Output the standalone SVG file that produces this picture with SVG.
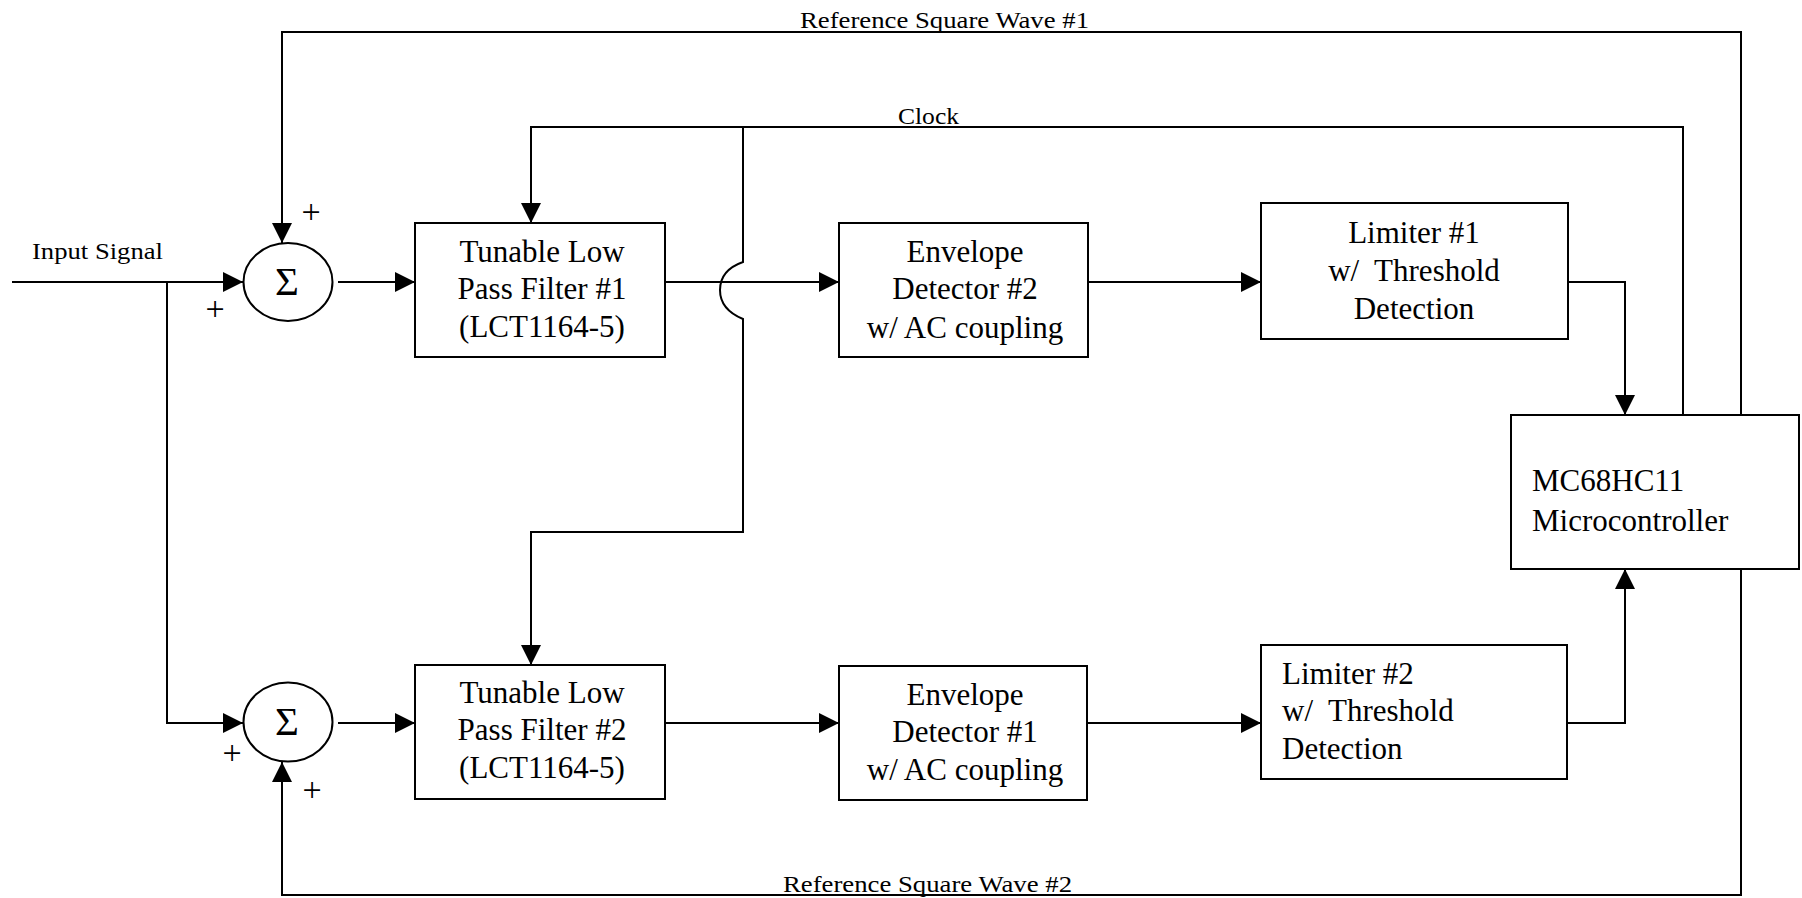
<svg xmlns="http://www.w3.org/2000/svg" width="1802" height="898" viewBox="0 0 1802 898">
  <style>
    .box { fill: #fff; stroke: #000; stroke-width: 2; }
    .sum { fill: #fff; stroke: #000; stroke-width: 2; }
    .wire { fill: none; stroke: #000; stroke-width: 2; }
    .arrow { marker-end: url(#arrowhead); }
    .big { font-family: "Liberation Serif", "Times New Roman", serif; font-size: 31px; fill: #000; }
    .mid { text-anchor: middle; }
    .small { font-family: "Liberation Serif", "Times New Roman", serif; font-size: 23px; fill: #000; }
    .sigma { font-family: "Liberation Serif", "Times New Roman", serif; font-size: 41px; fill: #000; text-anchor: middle; }
    .plus { font-family: "Liberation Serif", "Times New Roman", serif; font-size: 34px; fill: #000; text-anchor: middle; }
  </style>
  <defs>
    <marker id="arrowhead" viewBox="0 0 20 20" refX="20" refY="10" markerWidth="20" markerHeight="20" markerUnits="userSpaceOnUse" orient="auto">
      <path d="M0,0 L20,10 L0,20 z" fill="#000"/>
    </marker>
  </defs>
  <rect width="1802" height="898" fill="#fff"/>

  <!-- signal wiring -->
  <g id="connectors">
    <!-- input splits to both summers -->
    <path class="wire arrow" d="M12,282 H243"/>
    <path class="wire arrow" d="M167,282 V723 H243"/>
    <!-- summers to filters -->
    <path class="wire arrow" d="M338,282 H415"/>
    <path class="wire arrow" d="M338,723 H415"/>
    <!-- upper chain -->
    <path class="wire arrow" d="M665,282 H839"/>
    <path class="wire arrow" d="M1088,282 H1261"/>
    <path class="wire arrow" d="M1568,282 H1625 V415"/>
    <!-- lower chain -->
    <path class="wire arrow" d="M665,723 H839"/>
    <path class="wire arrow" d="M1087,723 H1261"/>
    <path class="wire arrow" d="M1567,723 H1625 V569"/>
    <!-- reference square waves back to the summers -->
    <path class="wire arrow" d="M1741,415 V32 H282 V243"/>
    <path class="wire arrow" d="M1741,569 V895 H282 V762"/>
    <!-- clock to both filters, hopping over the filter output -->
    <path class="wire arrow" d="M1683,415 V127 H531 V223"/>
    <path class="wire arrow" d="M743,127 V262 C726,268 720,279 720,290 C720,301 726,312 743,319 V532 H531 V665"/>
  </g>

  <g id="labels">
    <text class="small" x="32" y="259" textLength="131" lengthAdjust="spacingAndGlyphs">Input Signal</text>
    <text class="small" x="800" y="28" textLength="289" lengthAdjust="spacingAndGlyphs">Reference Square Wave #1</text>
    <text class="small" x="898" y="124" textLength="61" lengthAdjust="spacingAndGlyphs">Clock</text>
    <text class="small" x="783" y="892" textLength="289" lengthAdjust="spacingAndGlyphs">Reference Square Wave #2</text>
  </g>

  <g id="sum1">
    <ellipse class="sum" cx="288" cy="282" rx="44.5" ry="39"/>
    <text class="sigma" x="287" y="295">Σ</text>
    <text class="plus" x="311" y="223">+</text>
    <text class="plus" x="215" y="320">+</text>
  </g>

  <g id="sum2">
    <ellipse class="sum" cx="288" cy="722" rx="44.5" ry="39.5"/>
    <text class="sigma" x="287" y="735">Σ</text>
    <text class="plus" x="232" y="764">+</text>
    <text class="plus" x="312" y="801">+</text>
  </g>

  <g id="filter1">
    <rect class="box" x="415" y="223" width="250" height="134"/>
    <text class="big mid" x="542" y="262">Tunable Low</text>
    <text class="big mid" x="542" y="299">Pass Filter #1</text>
    <text class="big mid" x="542" y="337">(LCT1164-5)</text>
  </g>

  <g id="envelope2">
    <rect class="box" x="839" y="223" width="249" height="134"/>
    <text class="big mid" x="965" y="262">Envelope</text>
    <text class="big mid" x="965" y="299">Detector #2</text>
    <text class="big mid" x="965" y="338">w/ AC coupling</text>
  </g>

  <g id="limiter1">
    <rect class="box" x="1261" y="203" width="307" height="136"/>
    <text class="big mid" x="1414" y="243">Limiter #1</text>
    <text class="big mid" x="1414" y="281" xml:space="preserve">w/  Threshold</text>
    <text class="big mid" x="1414" y="319">Detection</text>
  </g>

  <g id="mcu">
    <rect class="box" x="1511" y="415" width="288" height="154"/>
    <text class="big" x="1532" y="491">MC68HC11</text>
    <text class="big" x="1532" y="531">Microcontroller</text>
  </g>

  <g id="filter2">
    <rect class="box" x="415" y="665" width="250" height="134"/>
    <text class="big mid" x="542" y="703">Tunable Low</text>
    <text class="big mid" x="542" y="740">Pass Filter #2</text>
    <text class="big mid" x="542" y="778">(LCT1164-5)</text>
  </g>

  <g id="envelope1">
    <rect class="box" x="839" y="666" width="248" height="134"/>
    <text class="big mid" x="965" y="705">Envelope</text>
    <text class="big mid" x="965" y="742">Detector #1</text>
    <text class="big mid" x="965" y="780">w/ AC coupling</text>
  </g>

  <g id="limiter2">
    <rect class="box" x="1261" y="645" width="306" height="134"/>
    <text class="big" x="1282" y="684">Limiter #2</text>
    <text class="big" x="1282" y="721" xml:space="preserve">w/  Threshold</text>
    <text class="big" x="1282" y="759">Detection</text>
  </g>
</svg>
